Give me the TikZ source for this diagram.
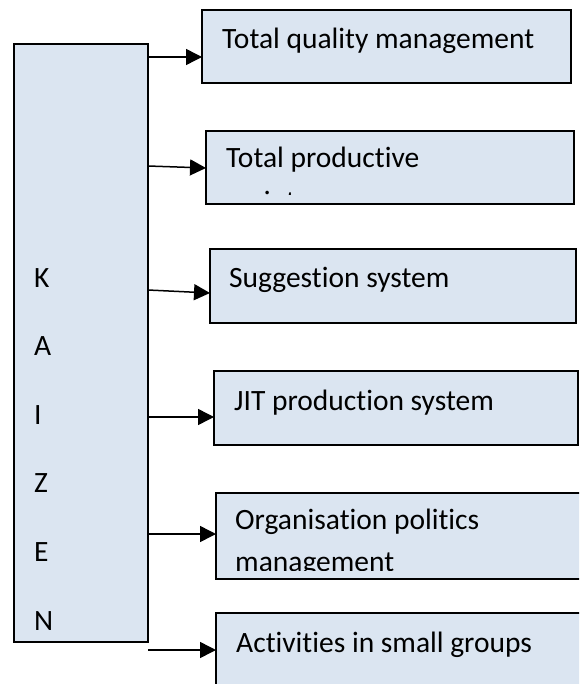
\documentclass[tikz,border=0pt]{standalone}
\usepackage{fontspec}
\setmainfont[Ligatures=NoCommon]{Carlito}
\usetikzlibrary{arrows.meta}
\definecolor{boxfill}{HTML}{DBE5F1}
\begin{document}
\begin{tikzpicture}[x=1pt,y=-1pt,
  panel/.style={draw=black, fill=boxfill, line width=1.3pt, rectangle,
    inner sep=0pt, outer sep=0pt, anchor=north west},
  label/.style={anchor=base west, inner sep=0pt, font=\fontsize{29.5}{41}\selectfont},
  link/.style={line width=1.5pt, -{Triangle[length=16pt,width=16pt]}}]
\clip (0,0) rectangle (579,684);
\fill[white] (0,0) rectangle (579,684);

% central column
\node[panel, minimum width=134pt, minimum height=598pt] (kaizen) at (14,44) {};
\node[label] (lk) at (34,287) {K};
\node[label] (la) at (34,355) {A};
\node[label] (li) at (34,424) {I};
\node[label] (lz) at (34,492) {Z};
\node[label] (le) at (34,561) {E};
\node[label] (ln) at (34,630) {N};

% the six practices
\node[panel, minimum width=369pt, minimum height=73pt] (b1) at (202,10) {};
\node[panel, minimum width=368pt, minimum height=73pt] (b2) at (206,131) {};
\node[panel, minimum width=366pt, minimum height=74pt] (b3) at (210,249) {};
\node[panel, minimum width=364pt, minimum height=74pt] (b4) at (214,371) {};
\node[panel, minimum width=370pt, minimum height=86pt] (b5) at (216,493) {};
\node[panel, minimum width=370pt, minimum height=100pt] (b6) at (216,613) {};

\node[label] (t1) at (222,49) {Total quality management};
\node[label] (t2) at (226,168) {Total productive};
\begin{scope}
  \clip (206,131) rectangle (574,194.5);
  \node[label] (t2b) at (226,212) {maintenance};
\end{scope}
\node[label] (t3) at (229,287) {Suggestion system};
\node[label] (t4) at (234,410) {JIT production system};
\node[label] (t5) at (235,529) {Organisation politics};
\begin{scope}
  \clip (216,493) rectangle (586,570);
  \node[label] (t5b) at (235,571) {management};
\end{scope}
\node[label] (t6) at (236,652) {Activities in small groups};

% connectors
\coordinate (s1) at (kaizen.east |- 0,57);
\coordinate (s2) at (kaizen.east |- 0,166);
\coordinate (s3) at (kaizen.east |- 0,290);
\coordinate (s4) at (kaizen.east |- 0,417);
\coordinate (s5) at (kaizen.east |- 0,534);
\coordinate (s6) at (kaizen.east |- 0,650);
\coordinate (e1) at (b1.west |- 0,57);
\coordinate (e2) at (b2.west |- 0,168);
\coordinate (e3) at (b3.west |- 0,293);
\coordinate (e4) at (b4.west |- 0,417);
\coordinate (e5) at (b5.west |- 0,534);
\coordinate (e6) at (b6.west |- 0,650);
\draw[link] (s1) -- (e1);
\draw[link] (s2) -- (e2);
\draw[link] (s3) -- (e3);
\draw[link] (s4) -- (e4);
\draw[link] (s5) -- (e5);
\draw[link] (s6) -- (e6);
\end{tikzpicture}
\end{document}
